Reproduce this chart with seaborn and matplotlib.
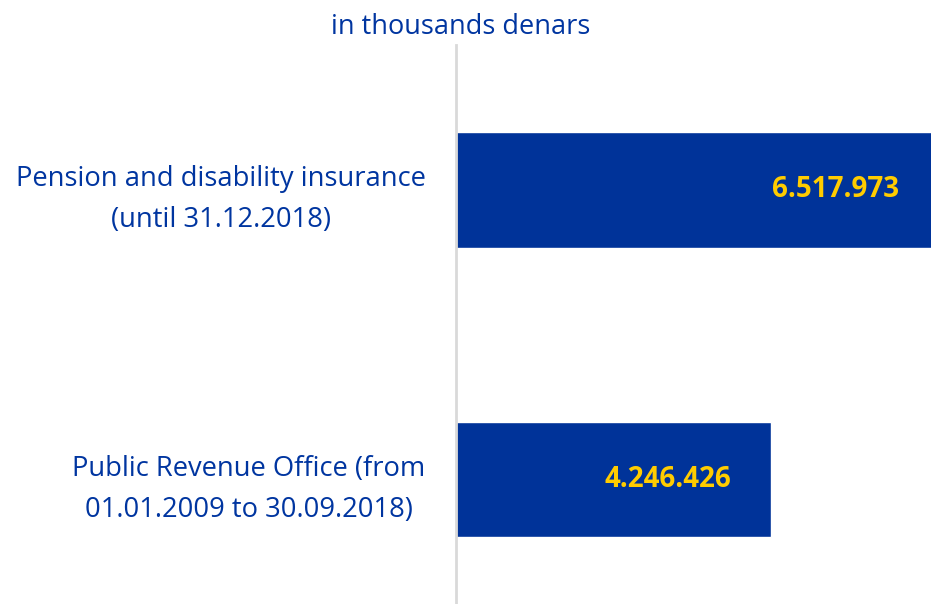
import seaborn as sns
import matplotlib.pyplot as plt
import pandas as pd

categories = ['Pension and disability insurance\n(until 31.12.2018)',
              'Public Revenue Office (from\n01.01.2009 to 30.09.2018)']
values = [6517973, 4246426]
value_labels = ['6.517.973', '4.246.426']

blue = '#003399'
text_blue = '#0035A0'
yellow = '#FFCC00'

sns.set_theme(style='white')
plt.rcParams['font.family'] = ['Open Sans', 'DejaVu Sans']

df = pd.DataFrame({'category': categories, 'value': values})

fig = plt.figure(figsize=(9.31, 6.04), dpi=100)
ax = fig.add_axes([456 / 931, 0, 1 - 456 / 931, 1 - 45 / 604])

sns.barplot(data=df, x='value', y='category', color=blue, width=0.4,
            saturation=1, ax=ax)

ax.set_xlim(0, 6403000)
ax.set_ylim(1.43, -0.5)

for i, (v, lab) in enumerate(zip(values, value_labels)):
    ax.text(v - 540000, i, lab, ha='right', va='center', color=yellow,
            fontsize=20, fontweight='bold')

ax.set_xlabel('')
ax.set_ylabel('')
ax.set_xticks([])
ax.tick_params(axis='y', length=0, pad=22, labelsize=19.7, labelcolor=text_blue)
for t in ax.get_yticklabels():
    t.set_multialignment('center')
    t.set_linespacing(1.6)

for s in ['top', 'right', 'bottom']:
    ax.spines[s].set_visible(False)
ax.spines['left'].set_color('#d9d9d9')
ax.spines['left'].set_linewidth(2)

fig.text(461 / 931, 1 - 27 / 604, 'in thousands denars', ha='center',
         va='center', color=text_blue, fontsize=19.5)

fig.savefig('out.png', dpi=100)
